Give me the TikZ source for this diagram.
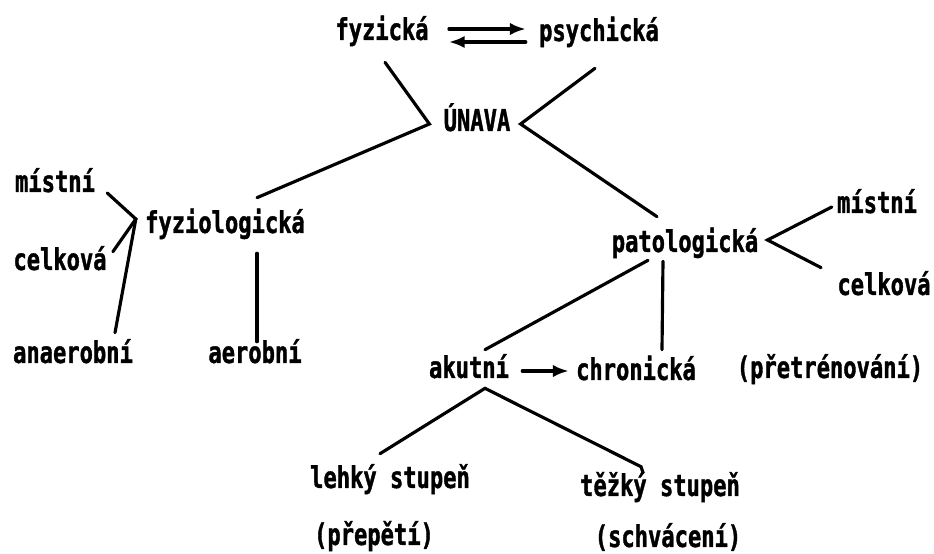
\documentclass[tikz,border=0pt]{standalone}
\usepackage{fontspec}
\newfontfamily\dotfont{DejaVu Sans Mono Bold}[FakeStretch=0.74, FakeBold=1.2]
\usepackage{tikz}
\usetikzlibrary{calc,arrows.meta}

\begin{document}
\begin{tikzpicture}[x=0.02cm, y=-0.02cm,
  lbl/.style = {font=\dotfont\fontsize{17}{19}\selectfont, inner sep=1.7pt,
                text height=10.2pt, text depth=2.3pt},
  ln/.style  = {line width=1.8pt, line cap=round},
  arr/.style = {ln, -{Latex[length=9pt,width=7pt]}}]
\useasboundingbox (0,0) rectangle (934,554);

% top
\node[lbl] (fyz)   at (382,33)  {fyzická};
\node[lbl] (psy)   at (599,34)  {psychická};
\node[lbl] (unava) at (477,124) {ÚNAVA};
\coordinate (jUL) at ($(unava.west)+(-11,0)$);
\coordinate (jUR) at ($(unava.east)+(7,0)$);

% left branch
\node[lbl] (fyzio) at (225,226) {fyziologická};
\node[lbl] (mistL) at (55,185)  {místní};
\node[lbl] (celL)  at (60,263)  {celková};
\node[lbl] (anaer) at (73,356)  {anaerobní};
\node[lbl] (aerob) at (255,356) {aerobní};
\coordinate (jFL) at ($(fyzio.west)+(-6,-7)$);

% right branch
\node[lbl] (pato)  at (685,245) {patologická};
\node[lbl] (mistR) at (877,206) {místní};
\node[lbl] (celR)  at (884,288) {celková};
\node[lbl] (akut)  at (469,371) {akutní};
\node[lbl] (chron) at (636,373) {chronická};
\node[lbl] (pretr) at (830,371) {(přetrénování)};
\node[lbl] (lehky) at (390,481) {lehký stupeň};
\node[lbl] (prep)  at (374,538) {(přepětí)};
\node[lbl] (tezky) at (660,489) {těžký stupeň};
\node[lbl] (schv)  at (668,540) {(schvácení)};
\coordinate (jPR) at ($(pato.east)+(6,-5)$);

% connectors
\draw[arr] ($(fyz.east)+(17,-4)$) -- ($(psy.west)+(-10,-5)$);
\draw[arr] ($(psy.west)+(-10,8)$) -- ($(fyz.east)+(17,9)$);
\draw[ln] ($(fyz.south)+(3,15)$) -- (jUL) -- ($(fyzio.north)+(32,-14)$);
\draw[ln] ($(psy.south)+(-4,20)$) -- (jUR) -- ($(pato.north)+(-28,-14)$);

\draw[ln] ($(mistL.east)+(9,8)$) -- (jFL) -- ($(celL.north east)+(3,3)$);
\draw[ln] (jFL) -- ($(anaer.north)+(42,-9)$);
\draw[ln] ($(fyzio.south)+(32,13)$) -- ($(aerob.north)+(2,0)$);

\draw[ln] ($(mistR.west)+(-2,1)$) -- (jPR) -- ($(celR.north west)+(-13,-6)$);
\draw[ln] ($(pato.south)+(-37,1)$) -- ($(akut.north)+(16,-7)$);
\draw[ln] ($(pato.south)+(-22,2)$) -- ($(chron.north)+(26,-9)$);
\draw[arr] ($(akut.east)+(10,0)$) -- ($(chron.west)+(-4,-2)$);
\draw[ln] ($(lehky.north)+(-10,-13)$) -- ($(akut.south)+(16,3)$)
  -- ($(tezky.north)+(-19,-8)$) -- ($(tezky.north)+(-17,-2)$);
\end{tikzpicture}
\end{document}
